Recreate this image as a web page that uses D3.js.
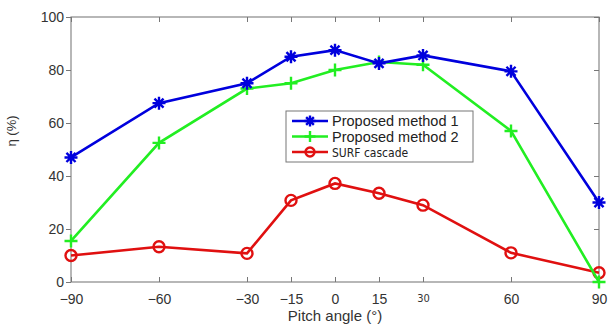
<!DOCTYPE html>
<html>
<head>
<meta charset="utf-8">
<script src="https://cdn.jsdelivr.net/npm/d3@7"></script>
<style>
  body { margin: 0; background: #fff; }
  svg { display: block; font-family: "Liberation Sans", Arial, sans-serif; }
</style>
</head>
<body>
<div id="chart"></div>
<script>
const angles = [-90, -60, -30, -15, 0, 15, 30, 60, 90];
const method1 = [47, 67.5, 75, 85, 87.5, 82.5, 85.5, 79.5, 30];
const method2 = [15.5, 52.5, 73, 75, 80, 83, 82, 57, 0];
const surf = [10, 13.3, 10.8, 30.8, 37.2, 33.5, 29, 11, 3.5];
const yTicks = [0, 20, 40, 60, 80, 100];
const seriesNames = ['Proposed method 1', 'Proposed method 2', 'SURF  cascade'];

const config = { width: 528, height: 265, margin: { top: 17, right: 12, bottom: 43, left: 71 } };

const svg = d3.select('#chart').append('svg')
  .attr('width', 611).attr('height', 325)
  .append('g').attr('transform', 'translate(' + config.margin.left + ',' + config.margin.top + ')');

const scaleX = d3.scaleLinear().domain([-90, 90]).range([0, config.width]);
const scaleY = d3.scaleLinear().domain([0, 100]).range([config.height, 0]);

// box
svg.append('rect')
  .attr('width', config.width).attr('height', config.height)
  .attr('fill', 'none').attr('stroke', '#888').attr('stroke-width', 1.2);

const fmt = d => d < 0 ? '\u2212' + Math.abs(d) : String(d);

// axes with inward ticks (matlab style)
svg.append('g')
  .attr('transform', 'translate(0,' + config.height + ')')
  .call(d3.axisBottom(scaleX).tickValues(angles).tickSize(-5).tickPadding(12).tickFormat(fmt))
  .call(g => g.select('.domain').remove());
svg.append('g')
  .call(d3.axisTop(scaleX).tickValues(angles).tickSize(-5).tickFormat(''))
  .call(g => g.select('.domain').remove());
svg.append('g')
  .call(d3.axisLeft(scaleY).tickValues(yTicks).tickSize(5).tickPadding(2))
  .call(g => g.select('.domain').remove());
svg.append('g')
  .attr('transform', 'translate(' + config.width + ',0)')
  .call(d3.axisRight(scaleY).tickValues(yTicks).tickSize(-5).tickFormat(''))
  .call(g => g.select('.domain').remove());

svg.selectAll('.tick line').attr('stroke', '#777');
svg.selectAll('.tick text').attr('fill', '#333').attr('font-size', 14)
  .attr('font-family', '"Liberation Sans", Arial, sans-serif');
// the "30" label looks different in the original
svg.selectAll('.tick text').filter(d => d === 30)
  .attr('font-size', 11).attr('font-family', '"Liberation Sans Narrow", "DejaVu Sans Condensed", sans-serif');

svg.append('text')
  .attr('x', config.width / 2).attr('y', config.height + 39)
  .attr('text-anchor', 'middle').attr('font-size', 15).attr('fill', '#333')
  .text('Pitch angle (°)');

svg.append('text')
  .attr('transform', 'translate(' + (-55) + ',' + (scaleY(57)) + ') rotate(-90)')
  .attr('text-anchor', 'middle').attr('font-size', 13).attr('fill', '#333')
  .text('\u03b7 (%)');

const line = d3.line().x((d, i) => scaleX(angles[i])).y(d => scaleY(d));

function star(g, s) {
  g.append('path').attr('d',
    'M' + (-s) + ',0L' + s + ',0M0,' + (-s) + 'L0,' + s +
    'M' + (-s * 0.7) + ',' + (-s * 0.7) + 'L' + (s * 0.7) + ',' + (s * 0.7) +
    'M' + (-s * 0.7) + ',' + (s * 0.7) + 'L' + (s * 0.7) + ',' + (-s * 0.7));
}
function plus(g, s) {
  g.append('path').attr('d', 'M' + (-s) + ',0L' + s + ',0M0,' + (-s) + 'L0,' + s);
}
function circle(g, s) {
  g.append('circle').attr('r', s).attr('fill', 'none');
}

const series = [
  { data: method1, color: '#0000dd', marker: star, size: 6.5 },
  { data: method2, color: '#22ee22', marker: plus, size: 6.5 },
  { data: surf, color: '#e01010', marker: circle, size: 5.5 }
];

series.slice().reverse().forEach(s => {
  svg.append('path').datum(s.data)
    .attr('fill', 'none').attr('stroke', s.color).attr('stroke-width', 2.6)
    .attr('d', line);
  s.data.forEach((v, i) => {
    const g = svg.append('g')
      .attr('transform', 'translate(' + scaleX(angles[i]) + ',' + scaleY(v) + ')')
      .attr('stroke', s.color).attr('stroke-width', 2.4);
    s.marker(g, s.size);
  });
});

// legend
const legend = svg.append('g').attr('transform', 'translate(' + (286 - config.margin.left) + ',' + (111 - config.margin.top) + ')');
legend.append('rect').attr('width', 187).attr('height', 51)
  .attr('fill', '#fff').attr('stroke', '#777').attr('stroke-width', 1);
seriesNames.forEach((name, i) => {
  const y = 10 + i * 15.5;
  const s = series[i];
  legend.append('line').attr('x1', 6).attr('x2', 42).attr('y1', y).attr('y2', y)
    .attr('stroke', s.color).attr('stroke-width', 2.6);
  const g = legend.append('g').attr('transform', 'translate(24,' + y + ')')
    .attr('stroke', s.color).attr('stroke-width', 2.4);
  s.marker(g, s.size - 1);
  legend.append('text').attr('x', 46).attr('y', y + 5)
    .attr('font-size', i === 2 ? 12 : 14.5).attr('fill', '#222')
    .attr('font-family', i === 2 ? '"Liberation Sans Narrow", "DejaVu Sans Condensed", sans-serif' : '"Liberation Sans", Arial, sans-serif')
    .text(name);
});
</script>
</body>
</html>
